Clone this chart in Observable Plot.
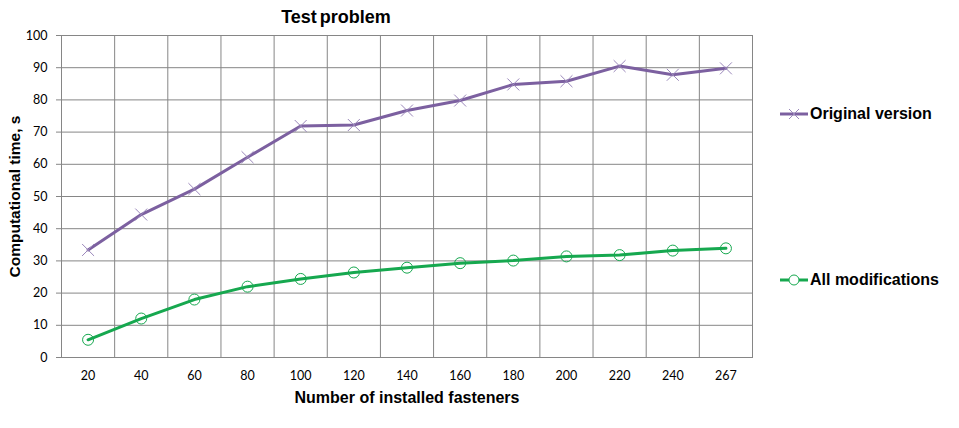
<!DOCTYPE html>
<html>
<head>
<meta charset="utf-8">
<script src="https://cdn.jsdelivr.net/npm/d3@7"></script>
<script src="https://cdn.jsdelivr.net/npm/@observablehq/plot@0.6"></script>
<style>
  html, body { margin: 0; padding: 0; background: #fff; }
  #wrap { position: relative; width: 959px; height: 428px; font-family: "Liberation Sans", Arial, sans-serif; }
  #title { position: absolute; left: 0; width: 672px; top: 7px; text-align: center; font-weight: bold; font-size: 18px; word-spacing: -2px; color: #000; }
  .leg { position: absolute; left: 779px; display: flex; align-items: center; font-weight: bold; font-size: 16px; color: #000; }
  .leg svg { margin-right: 1px; }
</style>
</head>
<body>
<div id="wrap">
  <div id="title">Test problem</div>
</div>
<script>
const categories = ["20","40","60","80","100","120","140","160","180","200","220","240","267"];
const originalVersion = [33.4, 44.4, 52.3, 62.2, 71.9, 72.2, 76.7, 79.8, 84.8, 85.8, 90.5, 87.8, 89.8];
const allModifications = [5.5, 12.1, 18.0, 22.0, 24.4, 26.4, 27.9, 29.3, 30.1, 31.4, 31.8, 33.2, 33.9];
const yTicks = [0,10,20,30,40,50,60,70,80,90,100];
const seriesNames = ["Original version", "All modifications"];

const purple = "#7c60a0";
const purpleMark = "#9a87ba";
const green = "#16a84f";

const idx = categories.map((_, i) => i);
const orig = idx.map(i => ({i, v: originalVersion[i]}));
const mods = idx.map(i => ({i, v: allModifications[i]}));
const boundaries = d3.range(0.5, categories.length - 1, 1);

const tickFont = "Lato, 'Open Sans', sans-serif";

const chart = Plot.plot({
  width: 959,
  height: 428,
  marginLeft: 61,
  marginRight: 207,
  marginTop: 35,
  marginBottom: 71,
  style: {fontFamily: "'Liberation Sans', Arial, sans-serif", fontSize: "12px", color: "#000", background: "#fff"},
  x: {type: "linear", domain: [-0.5, categories.length - 0.5], axis: null},
  y: {domain: [0, 100], axis: null},
  marks: [
    Plot.gridY(yTicks, {stroke: "#868686", strokeOpacity: 1, strokeWidth: 1}),
    Plot.ruleX(boundaries, {stroke: "#868686", strokeWidth: 1}),
    Plot.frame({stroke: "#868686", strokeWidth: 1}),
    Plot.axisY(yTicks, {tickSize: 5, tickPadding: 9, stroke: "#868686", label: null, fill: "#000", fontSize: 12.5, fontFamily: tickFont}),
    Plot.axisX(idx, {tickSize: 0, tickPadding: 14, tickFormat: i => categories[i], label: null, fill: "#000", fontSize: 12.5, fontFamily: tickFont}),
    Plot.text(["Number of installed fasteners"], {frameAnchor: "bottom", textAnchor: "middle", lineAnchor: "middle", dy: 40, fontWeight: "bold", fontSize: 16, fill: "#000"}),
    Plot.text(["Computational time, s"], {frameAnchor: "left", textAnchor: "middle", lineAnchor: "middle", dx: -46, rotate: -90, fontWeight: "bold", fontSize: 15.5, fill: "#000"}),
    Plot.line(orig, {x: "i", y: "v", stroke: purple, strokeWidth: 3}),
    Plot.dot(orig, {x: "i", y: "v", symbol: "times", r: 5.5, stroke: purpleMark, strokeWidth: 1}),
    Plot.line(mods, {x: "i", y: "v", stroke: green, strokeWidth: 3}),
    Plot.dot(mods, {x: "i", y: "v", symbol: "circle", r: 5.5, stroke: green, fill: "none", strokeWidth: 1})
  ]
});
const wrap = document.getElementById("wrap");
wrap.appendChild(chart);

function legendItem(name, color, markColor, kind, top) {
  const div = document.createElement("div");
  div.className = "leg";
  div.style.top = top + "px";
  const marker = kind === "times"
    ? `<path d="M10,-5 L20,5 M10,5 L20,-5" transform="translate(0,8)" stroke="${markColor}" stroke-width="1" fill="none"/>`
    : `<circle cx="15" cy="8" r="5" stroke="${color}" stroke-width="1" fill="#fff"/>`;
  div.innerHTML = `<svg width="30" height="16"><line x1="1" x2="29" y1="8" y2="8" stroke="${color}" stroke-width="3"/>${marker}</svg><span>${name}</span>`;
  wrap.appendChild(div);
}
legendItem(seriesNames[0], purple, purpleMark, "times", 105);
legendItem(seriesNames[1], green, green, "circle", 271);
</script>
</body>
</html>
